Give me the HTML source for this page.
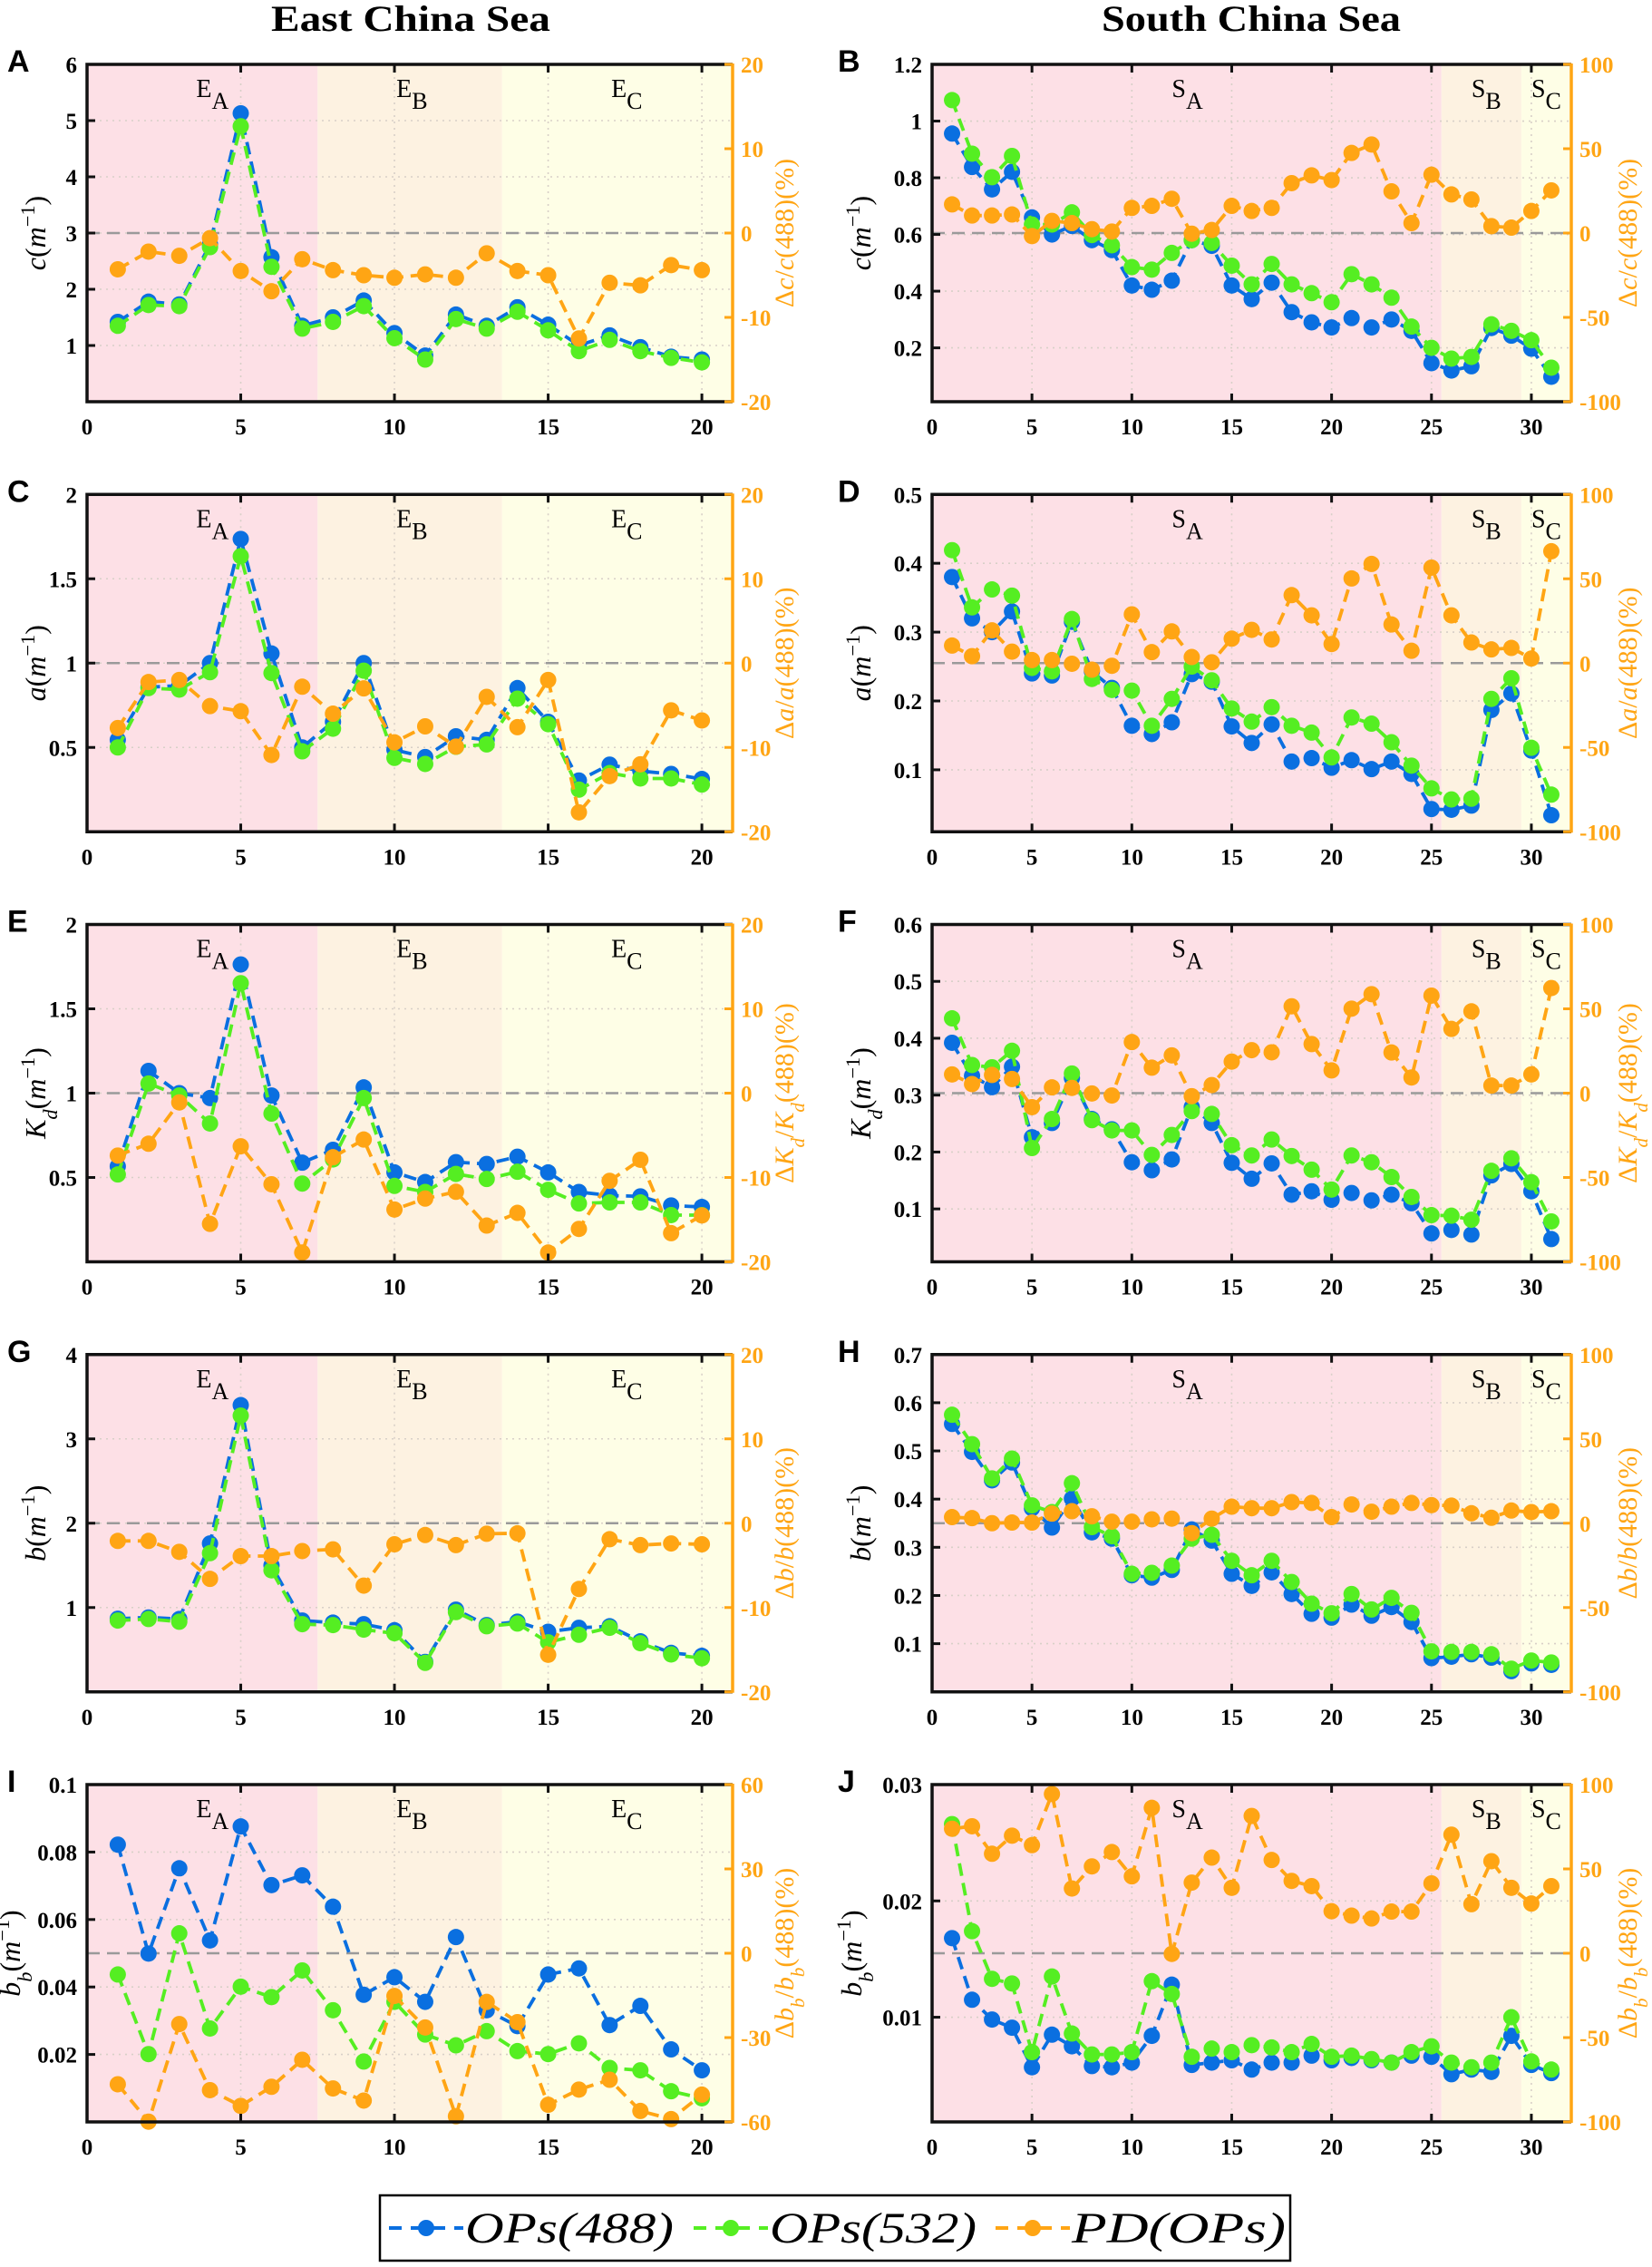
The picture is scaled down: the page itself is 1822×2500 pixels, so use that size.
<!DOCTYPE html>
<html><head><meta charset="utf-8"><style>
html,body{margin:0;padding:0;background:#fff;}
svg{display:block;}
</style></head><body>
<svg id="fig" xmlns="http://www.w3.org/2000/svg" width="1822" height="2500" viewBox="0 0 1822 2500" font-family="'Liberation Serif', serif">
<text x="453" y="34" text-anchor="middle" font-size="40" font-weight="bold" textLength="308" lengthAdjust="spacingAndGlyphs">East China Sea</text>
<text x="1380" y="34" text-anchor="middle" font-size="40" font-weight="bold" textLength="330" lengthAdjust="spacingAndGlyphs">South China Sea</text>
<g id="panels"></g>
<g>
<rect x="419" y="2421" width="1004" height="72" fill="#fff" stroke="#000" stroke-width="2.5"/>
<g>
<line x1="429" y1="2457" x2="511" y2="2457" stroke="#0a6fe0" stroke-width="4" stroke-dasharray="14 10"/>
<circle cx="470" cy="2457" r="9" fill="#0a6fe0"/>
<text x="513" y="2473" font-size="48" font-style="italic" textLength="230" lengthAdjust="spacingAndGlyphs">OPs(488)</text></g>
<g>
<line x1="765" y1="2457" x2="847" y2="2457" stroke="#55ee22" stroke-width="4" stroke-dasharray="14 10"/>
<circle cx="806" cy="2457" r="9" fill="#55ee22"/>
<text x="849" y="2473" font-size="48" font-style="italic" textLength="228" lengthAdjust="spacingAndGlyphs">OPs(532)</text></g>
<g>
<line x1="1098" y1="2457" x2="1180" y2="2457" stroke="#ffa514" stroke-width="4" stroke-dasharray="14 10"/>
<circle cx="1139" cy="2457" r="9" fill="#ffa514"/>
<text x="1182" y="2473" font-size="48" font-style="italic" textLength="236" lengthAdjust="spacingAndGlyphs">PD(OPs)</text></g>
</g>
</svg>
<script>
// ---- data ----
const A_b = [1.42,1.78,1.73,2.8,5.13,2.57,1.35,1.5,1.8,1.22,0.82,1.55,1.35,1.68,1.37,1.0,1.18,0.97,0.8,0.75];
const A_g = [1.35,1.72,1.7,2.75,4.9,2.4,1.3,1.42,1.7,1.13,0.75,1.47,1.3,1.6,1.27,0.9,1.1,0.9,0.78,0.7];
const A_o = [-4.3,-2.2,-2.7,-0.6,-4.5,-6.9,-3.1,-4.4,-5.0,-5.3,-4.9,-5.3,-2.4,-4.5,-5.0,-12.5,-5.9,-6.2,-3.8,-4.4];
const B_b = [0.956,0.838,0.759,0.821,0.66,0.6,0.63,0.58,0.545,0.42,0.405,0.437,0.58,0.56,0.42,0.372,0.43,0.326,0.29,0.272,0.305,0.272,0.3,0.26,0.146,0.12,0.135,0.27,0.243,0.197,0.098];
const B_g = [1.074,0.885,0.802,0.877,0.635,0.635,0.678,0.598,0.562,0.485,0.476,0.535,0.58,0.57,0.49,0.424,0.496,0.424,0.393,0.361,0.46,0.424,0.377,0.275,0.2,0.162,0.168,0.283,0.26,0.227,0.13];
const B_o = [17,10.4,10.4,11,-1.8,7.2,5.9,2.3,0.9,14.9,16.1,20.3,-0.4,1.8,16.1,13.1,14.9,29.6,34.2,31.4,47.5,52.5,24.7,5.9,34.6,22.9,19.9,4.1,3.2,13.1,25.3];
const C_b = [0.545,0.857,0.866,1.0,1.736,1.057,0.5,0.652,1.0,0.486,0.443,0.566,0.545,0.852,0.652,0.304,0.398,0.36,0.343,0.313];
const C_g = [0.5,0.852,0.843,0.946,1.634,0.941,0.477,0.611,0.955,0.438,0.402,0.504,0.518,0.789,0.638,0.25,0.348,0.316,0.316,0.28];
const C_o = [-7.7,-2.25,-2.0,-5.1,-5.7,-10.9,-2.8,-6.0,-3.0,-9.4,-7.5,-9.9,-4.0,-7.6,-2.0,-17.7,-13.4,-12,-5.6,-6.8];
const D_b = [0.380,0.320,0.300,0.330,0.240,0.237,0.315,0.243,0.219,0.164,0.152,0.169,0.239,0.228,0.163,0.139,0.166,0.112,0.117,0.103,0.114,0.101,0.112,0.094,0.043,0.042,0.048,0.187,0.211,0.128,0.034];
const D_g = [0.419,0.336,0.362,0.353,0.248,0.243,0.319,0.232,0.216,0.215,0.164,0.203,0.25,0.230,0.189,0.170,0.191,0.164,0.154,0.118,0.176,0.167,0.140,0.106,0.073,0.057,0.058,0.203,0.233,0.132,0.064];
const D_o = [10.4,4.1,19.4,6.8,1.8,1.8,-0.4,-3.9,-1.6,28.9,6.5,18.8,3.6,0.5,14.5,19.7,14,40.3,28.3,11.3,50.2,58.8,22.9,7.3,56.6,28.3,12.2,8.1,9.0,2.7,66.3];
const E_b = [0.566,1.132,1.0,0.971,1.763,0.986,0.588,0.664,1.034,0.530,0.473,0.591,0.580,0.623,0.530,0.414,0.393,0.388,0.334,0.325];
const E_g = [0.518,1.057,0.986,0.820,1.652,0.879,0.464,0.607,0.971,0.45,0.414,0.521,0.491,0.534,0.427,0.346,0.352,0.352,0.277,0.277];
const E_o = [-7.4,-6.0,-1.1,-15.5,-6.3,-10.8,-18.9,-7.6,-5.5,-13.8,-12.5,-11.7,-15.7,-14.2,-18.9,-16.1,-10.4,-7.9,-16.6,-14.5];
const F_b = [0.392,0.334,0.314,0.350,0.226,0.251,0.330,0.258,0.240,0.182,0.168,0.187,0.279,0.251,0.181,0.153,0.180,0.125,0.131,0.116,0.128,0.115,0.125,0.110,0.057,0.063,0.055,0.159,0.179,0.131,0.047];
const F_g = [0.435,0.353,0.349,0.378,0.207,0.258,0.338,0.256,0.238,0.238,0.195,0.230,0.272,0.267,0.212,0.194,0.222,0.193,0.169,0.134,0.194,0.182,0.156,0.121,0.089,0.088,0.081,0.167,0.189,0.147,0.078];
const F_o = [11.1,5.4,10.8,8.4,-8.3,3.4,3.1,-0.2,-1.4,30.3,15.1,22.4,-1.8,4.8,18.7,25.5,24.2,51.5,29.1,13.5,50.1,58.7,24.1,9.3,57.8,38.1,48.5,4.5,4.5,11.1,62.3];
const G_b = [0.867,0.882,0.864,1.76,3.40,1.50,0.846,0.821,0.803,0.731,0.355,0.975,0.792,0.832,0.713,0.760,0.778,0.599,0.462,0.427];
const G_g = [0.846,0.864,0.832,1.645,3.276,1.441,0.803,0.792,0.738,0.695,0.344,0.946,0.778,0.81,0.588,0.677,0.760,0.577,0.444,0.398];
const G_o = [-2.1,-2.1,-3.4,-6.6,-3.9,-3.9,-3.3,-3.1,-7.4,-2.5,-1.4,-2.6,-1.25,-1.2,-15.6,-7.8,-1.9,-2.6,-2.4,-2.5];
const H_b = [0.556,0.498,0.439,0.476,0.381,0.341,0.401,0.331,0.318,0.242,0.237,0.253,0.337,0.314,0.245,0.22,0.248,0.203,0.162,0.154,0.181,0.158,0.176,0.145,0.07,0.073,0.078,0.071,0.043,0.059,0.056];
const H_g = [0.575,0.514,0.443,0.484,0.387,0.373,0.433,0.342,0.323,0.245,0.247,0.262,0.318,0.326,0.272,0.242,0.272,0.228,0.183,0.163,0.203,0.171,0.195,0.164,0.084,0.083,0.083,0.078,0.048,0.065,0.061];
const H_o = [3.6,3.0,0,0.4,0.4,5.7,7.1,4.1,0.9,0.9,2.3,2.7,-5.9,2.7,9.8,8.9,8.9,12.5,12.0,3.6,11.1,6.8,9.8,12,10.7,10.4,5.9,3.2,7.5,6.6,7.1];
const I_b = [0.0822,0.0499,0.0752,0.0538,0.0876,0.0702,0.0731,0.0638,0.0377,0.0429,0.0356,0.0548,0.0331,0.0284,0.0437,0.0455,0.0287,0.0344,0.0215,0.0153];
const I_g = [0.0437,0.0201,0.0559,0.0277,0.0401,0.037,0.0449,0.0331,0.0179,0.0356,0.0259,0.0227,0.0269,0.021,0.0201,0.0233,0.016,0.0153,0.0091,0.007];
const I_o = [-46.6,-59.9,-25.2,-48.7,-54.3,-47.5,-37.9,-48.1,-52.4,-15.2,-26.4,-58,-17.3,-24.5,-53.9,-48.5,-45,-56.1,-59,-50.3];
const J_b = [0.0168,0.0115,0.0098,0.0091,0.0057,0.0085,0.0075,0.0058,0.0057,0.0061,0.0084,0.0128,0.0059,0.0061,0.0063,0.0055,0.0061,0.0061,0.0067,0.0063,0.0065,0.0063,0.0061,0.0067,0.0066,0.0051,0.0055,0.0053,0.0084,0.0059,0.0052];
const J_g = [0.0266,0.0174,0.0133,0.0129,0.007,0.0135,0.0086,0.0068,0.0068,0.007,0.0131,0.012,0.0066,0.0073,0.007,0.0076,0.0074,0.007,0.0077,0.0066,0.0067,0.0064,0.0061,0.007,0.0075,0.0061,0.0057,0.0061,0.01,0.0062,0.0055];
const J_o = [73.8,75.3,59,69.7,64.1,94.4,38.4,51.5,60,45.6,86.2,-0.4,41.9,56.7,38.8,81.4,55.3,42.9,39.8,24.9,22.3,20.6,24.7,24.7,41.4,70.3,29.1,54.6,38.8,29.5,39.8];
// ticks
const eastXTicks = [0,5,10,15,20];
const southXTicks = [0,5,10,15,20,25,30];
const pctTicks20 = [-20,-10,0,10,20];
const pctTicks60 = [-60,-30,0,30,60];
const pctTicks100 = [-100,-50,0,50,100];
const A_yt = [1,2,3,4,5,6];
const B_yt = [0.2,0.4,0.6,0.8,1,1.2];
const C_yt = [0.5,1,1.5,2];
const D_yt = [0.1,0.2,0.3,0.4,0.5];
const E_yt = [0.5,1,1.5,2];
const F_yt = [0.1,0.2,0.3,0.4,0.5,0.6];
const G_yt = [1,2,3,4];
const H_yt = [0.1,0.2,0.3,0.4,0.5,0.6,0.7];
const I_yt = [0.02,0.04,0.06,0.08,0.1];
const J_yt = [0.01,0.02,0.03];
const eastRegions = [[0,7.5,'#fde0e6'],[7.5,13.5,'#fdf2e1'],[13.5,21,'#fefee6']];
const southRegions = [[0,25.5,'#fde0e6'],[25.5,29.5,'#fdf2e1'],[29.5,32,'#fefee6']];

const NS='http://www.w3.org/2000/svg';
const BLUE='#0a6fe0', GREEN='#55ee22', ORANGE='#ffa514';
function mk(tag, attrs, parent){const e=document.createElementNS(NS,tag);for(const k in attrs)e.setAttribute(k,attrs[k]);if(parent)parent.appendChild(e);return e;}

const panelDefs = [
 {id:'a',label:'A',side:0,row:0,ymin:0,ymax:6,yt:A_yt,rt:pctTicks20,b:A_b,g:A_g,o:A_o,q:'c',sub:'',lx:50},
 {id:'b',label:'B',side:1,row:0,ymin:0.01,ymax:1.2,yt:B_yt,rt:pctTicks100,b:B_b,g:B_g,o:B_o,q:'c',sub:'',lx:960},
 {id:'c',label:'C',side:0,row:1,ymin:0,ymax:2,yt:C_yt,rt:pctTicks20,b:C_b,g:C_g,o:C_o,q:'a',sub:'',lx:50},
 {id:'d',label:'D',side:1,row:1,ymin:0.01,ymax:0.5,yt:D_yt,rt:pctTicks100,b:D_b,g:D_g,o:D_o,q:'a',sub:'',lx:960},
 {id:'e',label:'E',side:0,row:2,ymin:0,ymax:2,yt:E_yt,rt:pctTicks20,b:E_b,g:E_g,o:E_o,q:'K',sub:'d',lx:50},
 {id:'f',label:'F',side:1,row:2,ymin:0.007,ymax:0.6,yt:F_yt,rt:pctTicks100,b:F_b,g:F_g,o:F_o,q:'K',sub:'d',lx:960},
 {id:'g',label:'G',side:0,row:3,ymin:0,ymax:4,yt:G_yt,rt:pctTicks20,b:G_b,g:G_g,o:G_o,q:'b',sub:'',lx:50},
 {id:'h',label:'H',side:1,row:3,ymin:0,ymax:0.7,yt:H_yt,rt:pctTicks100,b:H_b,g:H_g,o:H_o,q:'b',sub:'',lx:960},
 {id:'i',label:'I',side:0,row:4,ymin:0,ymax:0.1,yt:I_yt,rt:pctTicks60,b:I_b,g:I_g,o:I_o,q:'b',sub:'b',lx:22},
 {id:'j',label:'J',side:1,row:4,ymin:0.001,ymax:0.03,yt:J_yt,rt:pctTicks100,b:J_b,g:J_g,o:J_o,q:'b',sub:'b',lx:950}
];
const root=document.getElementById('panels');
function qty(q,sub){return '<tspan font-style="italic">'+q+'</tspan>'+(sub?'<tspan font-style="italic" font-size="70%" baseline-shift="sub">'+sub+'</tspan>':'');}

panelDefs.forEach(p=>{
  const L = p.side? 1028:96, R = p.side? 1733:808;
  const T = 71 + p.row*474.25, B = T+372;
  const xmax = p.side? 32:21;
  const rmin = p.rt[0], rmax = p.rt[p.rt.length-1];
  const sx = v=> L + v/xmax*(R-L);
  const sy = v=> B - (v-p.ymin)/(p.ymax-p.ymin)*(B-T);
  const sr = v=> B - (v-rmin)/(rmax-rmin)*(B-T);
  const g = mk('g',{},root);
  
  
  (p.side?southRegions:eastRegions).forEach((r,i)=>{
    const re=mk('rect',{x:sx(r[0]),y:T,width:sx(r[1])-sx(r[0]),height:B-T,fill:r[2]},g);
    
    
  });
  const xt = p.side? southXTicks:eastXTicks;
  xt.forEach(t=>{ if(t>0){ const l=mk('line',{x1:sx(t),x2:sx(t),y1:T,y2:B,stroke:'#d8d0c8','stroke-width':1.6,'stroke-dasharray':'2 5'},g);
     }});
  p.yt.forEach(t=>{ const l=mk('line',{x1:L,x2:R,y1:sy(t),y2:sy(t),stroke:'#d8d0c8','stroke-width':1.6,'stroke-dasharray':'2 5'},g);
     });
  const rl = p.side? [['S','A',12.0],['S','B',27.0],['S','C',30.0]] : [['E','A',3.55],['E','B',10.06],['E','C',17.05]];
  rl.forEach(r=>{ const t=mk('text',{x:sx(r[2]),y:T+36,'font-size':28},g);
    
    
    t.innerHTML=r[0]+'<tspan dy="13" font-size="26">'+r[1]+'</tspan>';});
  const z=mk('line',{x1:L,x2:R,y1:sr(0),y2:sr(0),stroke:'#9a9a9a','stroke-width':2.6,'stroke-dasharray':'14 8'},g);
   
  [['ops488',p.b,BLUE,sy],['ops532',p.g,GREEN,sy],['pd-ops',p.o,ORANGE,sr]].forEach(s=>{
    const sg=mk('g',{},g);
    
    
    const pts=s[1].map((v,i)=>sx(i+1).toFixed(1)+','+s[3](v).toFixed(1)).join(' ');
    const pl=mk('polyline',{points:pts,fill:'none',stroke:s[2],'stroke-width':3.8,'stroke-dasharray':'14 8'},sg);
    
    
    s[1].forEach((v,i)=>{const c=mk('circle',{cx:sx(i+1),cy:s[3](v),r:9,fill:s[2]},sg);
      
      });
  });
  const fr=mk('path',{d:`M${R},${T} L${L},${T} L${L},${B} L${R},${B}`,fill:'none',stroke:'#111','stroke-width':3.5},g);
   
  const ra=mk('line',{x1:R,x2:R,y1:T-1,y2:B+1,stroke:ORANGE,'stroke-width':3.5},g);
   
  xt.forEach(t=>{
    const tk=mk('line',{x1:sx(t),x2:sx(t),y1:T,y2:T+9,stroke:'#111','stroke-width':3},g);
     
    const tb=mk('line',{x1:sx(t),x2:sx(t),y1:B,y2:B-9,stroke:'#111','stroke-width':3},g);
     
    const lb=mk('text',{x:sx(t),y:B+36,'text-anchor':'middle','font-size':25,'font-weight':'bold'},g);
     
    lb.textContent=t;
  });
  p.yt.forEach(t=>{
    const tk=mk('line',{x1:L,x2:L+9,y1:sy(t),y2:sy(t),stroke:'#111','stroke-width':3},g);
     
    const lb=mk('text',{x:L-11,y:sy(t)+9,'text-anchor':'end','font-size':25,'font-weight':'bold'},g);
     
    lb.textContent=String(t);
  });
  p.rt.forEach(t=>{
    const tk=mk('line',{x1:R,x2:R-9,y1:sr(t),y2:sr(t),stroke:ORANGE,'stroke-width':3},g);
     
    const lb=mk('text',{x:R+9,y:sr(t)+9,'font-size':25,'font-weight':'bold',fill:ORANGE},g);
     
    lb.textContent=String(t);
  });
  const yc=(T+B)/2;
  const lx = p.lx;
  const yl=mk('text',{x:lx,y:yc,'text-anchor':'middle','font-size':32,transform:`rotate(-90 ${lx} ${yc})`},g);
   
  yl.innerHTML=qty(p.q,p.sub)+'(<tspan font-style="italic">m</tspan><tspan font-size="70%" baseline-shift="super">−1</tspan>)';
  const rx = p.side? 1805:875;
  const rtl=mk('text',{x:rx,y:yc,'text-anchor':'middle','font-size':30,fill:ORANGE,transform:`rotate(-90 ${rx} ${yc})`},g);
   
  rtl.innerHTML='Δ'+qty(p.q,p.sub)+'/'+qty(p.q,p.sub)+'(488)(%)';
  const pl=mk('text',{x:p.side?924:8,y:T+8,'font-size':34,'font-weight':'bold','font-family':"'Liberation Sans', sans-serif"},g);
   
  pl.textContent=p.label;
});
</script>
</body></html>
